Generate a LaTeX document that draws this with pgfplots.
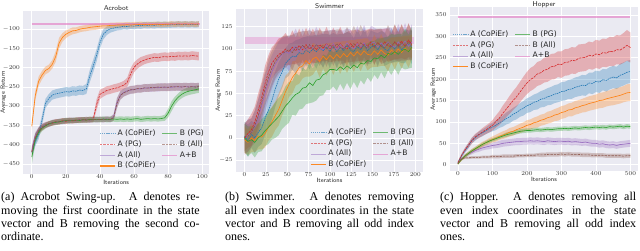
\documentclass[border=0pt]{standalone}
\usepackage{fontspec}
\usepackage{pgfplots}
\usepackage{pgfplotstable}
\pgfplotsset{compat=1.18}
\usepgfplotslibrary{fillbetween}
\newfontfamily\capfont{Liberation Serif}
\newfontfamily\legfont{DejaVu Sans}
\definecolor{tabblue}{RGB}{31,119,180}
\definecolor{tabred}{RGB}{214,39,40}
\definecolor{tabpurple}{RGB}{148,103,189}
\definecolor{taborange}{RGB}{255,127,14}
\definecolor{tabgreen}{RGB}{44,160,44}
\definecolor{tabbrown}{RGB}{140,86,75}
\definecolor{tabpink}{RGB}{227,119,194}
\definecolor{bgc}{RGB}{234,234,242}

\pgfplotstableread{
x b be r re p pe o oe g ge n ne
0 -420 12 -418 12 -415 12 -352 10 -432 18 -419 12
2 -392 12 -381 10 -378 10 -273 12 -386 14 -382 10
4 -374 12 -364 8 -362 8 -235 12 -367 10 -363 8
6 -336 14 -355 8 -353 8 -219 11 -357 8 -354 8
8 -293 12 -350 7 -349 7 -207 10 -351 7 -348 7
10 -280 12 -345 7 -347 7 -202 10 -346 7 -346 7
12 -271 12 -344 7 -342 7 -191 11 -343 7 -343 7
14 -268 12 -341 7 -342 7 -171 14 -342 7 -340 7
16 -266 12 -340 7 -339 7 -136 14 -340 7 -341 7
18 -264 12 -338 7 -340 7 -121 11 -339 7 -338 7
20 -262 12 -339 7 -337 7 -113 10 -337 7 -338 7
22 -263 12 -337 7 -338 7 -108 9 -338 7 -336 7
24 -260 12 -338 7 -336 7 -104 9 -337 7 -337 7
26 -261 12 -336 7 -337 7 -103 8 -336 7 -337 7
28 -258 12 -336 7 -335 7 -100 8 -337 7 -335 7
30 -259 12 -335 7 -336 7 -98 8 -335 7 -336 7
32 -255 13 -336 7 -335 7 -97 8 -336 7 -334 7
34 -222 16 -334 7 -336 7 -95 8 -334 7 -336 7
36 -196 16 -335 7 -334 7 -94 8 -335 7 -334 7
38 -168 16 -296 14 -335 7 -93 8 -334 7 -335 7
40 -135 15 -269 12 -334 7 -92 7 -335 7 -334 7
42 -113 13 -264 11 -335 7 -91 7 -333 7 -335 7
44 -104 11 -259 11 -333 7 -91 7 -335 7 -333 7
46 -99 10 -257 11 -335 7 -90 7 -334 7 -334 7
48 -97 9 -254 11 -328 8 -90 7 -333 7 -330 8
50 -95 8 -252 11 -291 13 -89 7 -334 7 -292 13
52 -94 8 -249 11 -271 11 -89 7 -333 7 -272 11
54 -92 8 -245 11 -264 10 -89 7 -334 7 -265 10
56 -93 8 -238 12 -260 10 -88 7 -333 7 -261 10
58 -91 8 -216 15 -258 10 -89 7 -334 7 -257 10
60 -92 8 -199 13 -256 10 -88 7 -333 7 -257 10
62 -90 8 -190 12 -255 10 -88 7 -332 7 -254 10
64 -91 8 -184 12 -254 10 -87 7 -334 7 -255 10
66 -89 8 -180 11 -253 10 -88 7 -333 7 -252 10
68 -90 8 -177 11 -252 10 -87 7 -332 7 -253 10
70 -89 8 -175 11 -253 10 -88 7 -333 7 -251 10
72 -90 8 -173 11 -251 10 -87 7 -332 7 -252 10
74 -88 8 -174 11 -252 10 -87 7 -333 7 -250 10
76 -89 8 -172 11 -250 10 -88 7 -332 7 -251 10
78 -88 8 -171 11 -251 10 -87 7 -330 8 -250 10
80 -89 8 -172 11 -250 10 -87 7 -318 11 -251 10
82 -88 8 -170 11 -251 10 -86 7 -300 13 -249 10
84 -88 8 -171 11 -249 10 -87 7 -286 11 -250 10
86 -87 8 -169 11 -250 10 -86 7 -276 10 -249 10
88 -88 8 -170 11 -250 10 -87 7 -269 10 -250 10
90 -87 8 -169 11 -249 10 -86 7 -264 10 -249 10
92 -88 8 -170 11 -250 10 -87 7 -261 10 -250 10
94 -87 8 -168 11 -249 10 -86 7 -259 10 -249 10
96 -88 8 -169 11 -250 10 -87 7 -257 10 -250 10
98 -87 8 -170 11 -249 10 -86 7 -255 10 -249 10
}\acro

\pgfplotstableread{
x b be r re p pe o oe g ge n ne
0 2 16 0 15 -2 17 -2 15 0 16 0 17
4 -3 18 5 16 3 18 -5 14 -4 17 2 18
8 4 15 9 18 6 16 0 16 -2 15 6 16
12 0 17 18 17 12 18 -3 13 -5 17 14 17
16 6 16 31 19 23 20 2 15 0 16 25 19
20 11 18 45 18 36 19 1 14 3 18 40 20
24 22 19 61 20 50 21 5 16 8 17 55 19
28 31 20 74 19 63 20 12 15 12 19 68 21
32 42 21 84 18 74 19 18 17 16 18 78 20
36 55 20 89 17 83 18 25 16 20 20 86 19
40 66 19 94 18 89 19 32 18 24 21 91 18
44 74 18 96 17 94 18 42 17 30 20 95 19
48 84 17 100 18 97 17 52 18 36 22 97 18
52 88 18 97 15 95 20 60 14 40 23 99 16
56 92 15 102 19 99 16 68 18 45 19 96 20
60 91 19 98 15 103 20 73 14 49 24 102 16
64 96 15 104 19 97 16 79 18 51 19 99 20
68 94 19 99 15 103 20 81 14 56 23 104 16
72 99 15 105 19 99 16 87 18 57 19 100 20
76 96 19 100 15 104 20 83 14 62 23 105 16
80 100 15 104 19 100 16 89 18 59 19 99 20
84 97 19 99 15 105 20 91 14 65 23 105 16
88 101 15 105 19 101 16 86 18 66 19 101 20
92 98 19 101 15 99 20 92 14 71 23 104 16
96 102 15 106 19 105 16 88 18 73 19 100 20
100 97 19 100 15 101 20 93 14 77 23 105 16
104 103 15 105 19 106 16 89 18 77 19 101 20
108 97 19 101 15 100 20 94 14 76 23 106 16
112 102 15 106 19 105 16 90 18 80 19 102 20
116 98 19 102 15 101 20 95 14 77 23 100 16
120 104 15 100 19 107 16 91 18 81 19 105 20
124 99 19 106 15 102 20 96 14 78 23 101 16
128 97 15 102 19 100 16 92 18 82 19 106 20
132 103 19 107 15 106 20 97 14 79 23 102 16
136 99 15 101 19 102 16 93 18 84 19 107 20
140 105 19 106 15 107 20 98 14 83 23 103 16
144 98 15 103 19 101 16 94 18 87 19 101 20
148 102 19 108 15 106 20 93 14 86 23 106 16
152 104 15 102 19 108 16 98 18 90 19 102 20
156 99 19 107 15 102 20 94 14 89 23 107 16
160 105 15 103 19 107 16 99 18 93 19 103 20
164 100 19 108 15 103 20 95 14 90 23 101 16
168 98 15 104 19 108 16 93 18 95 19 107 20
172 104 19 102 15 104 20 99 14 94 23 103 16
176 100 15 108 19 102 16 95 18 97 19 108 20
180 105 19 104 15 108 20 100 14 94 23 102 16
184 99 15 109 19 104 16 96 18 98 19 107 20
188 103 19 103 15 109 20 101 14 100 23 103 16
192 106 15 110 19 103 16 97 18 97 19 108 20
196 102 19 105 15 108 20 102 14 102 23 104 16
}\swim

\pgfplotstableread{
x b be r re p pe o oe g ge n ne
0 5 3 5 3 3 2 2 2 2 2 3 2
10 20 4 21 4 13 3 12 3 12 3 14 3
20 33 5 34 5 20 4 20 4 20 4 16 3
30 44 6 45 6 25 4 26 4 26 4 16 3
40 56 6 56 7 29 5 32 5 32 4 17 3
50 63 7 65 7 33 5 37 5 37 4 17 3
60 70 7 70 8 36 6 42 6 42 4 17 3
70 74 8 76 9 39 6 47 6 47 4 18 3
80 79 8 81 10 41 6 51 6 51 4 18 3
90 84 9 86 11 43 7 55 7 55 4 18 3
100 88 10 92 12 45 7 59 7 58 4 19 4
110 92 11 101 14 46 7 62 8 61 4 19 4
120 98 12 109 16 48 8 66 8 64 4 19 4
130 102 13 120 18 50 8 69 9 67 4 20 4
140 108 14 130 19 51 8 72 9 70 5 20 4
150 112 15 140 21 52 8 76 10 72 5 20 4
160 118 15 150 22 53 8 78 10 74 5 20 4
170 122 16 159 23 54 8 82 10 76 5 21 4
180 128 16 170 24 54 8 85 11 78 5 21 4
190 132 17 181 25 55 8 88 11 79 5 21 4
200 138 17 191 26 55 8 92 12 80 5 22 4
210 141 18 199 27 56 8 94 12 80 5 22 4
220 146 18 204 27 55 8 98 12 81 5 22 4
230 148 19 212 28 56 8 100 13 82 5 23 4
240 153 19 215 28 55 8 104 13 81 5 23 5
250 155 20 221 29 54 8 106 13 82 5 23 5
260 159 20 223 29 56 8 110 14 83 5 24 5
270 161 21 229 30 55 8 112 14 82 5 24 5
280 165 21 230 30 54 8 116 14 83 5 24 5
290 167 21 235 30 55 8 118 15 84 5 24 5
300 171 22 234 31 55 8 122 15 84 5 25 5
310 172 22 239 31 54 8 124 15 85 5 24 5
320 176 22 240 31 55 8 128 15 84 5 25 5
330 177 23 244 31 53 8 129 16 85 5 24 5
340 181 23 243 31 54 8 133 16 86 5 24 5
350 183 23 249 32 53 8 135 16 85 5 24 5
360 186 24 250 32 52 8 138 16 86 5 23 5
370 185 24 251 32 53 8 140 17 87 5 23 5
380 191 24 256 32 51 8 143 17 86 5 23 5
390 190 25 254 32 50 8 145 17 87 5 22 5
400 195 25 259 33 50 8 147 17 88 5 22 5
410 193 25 257 33 48 8 150 18 87 5 22 5
420 199 25 262 33 49 8 151 18 88 5 22 5
430 197 26 261 33 47 8 154 18 87 5 21 5
440 202 26 265 34 46 8 156 18 89 5 21 5
450 205 26 264 34 47 8 158 19 88 5 21 5
460 203 26 269 34 45 8 160 19 89 5 21 5
470 209 27 268 34 47 8 162 19 90 5 21 5
480 212 27 273 35 48 8 165 19 88 5 20 5
490 216 27 279 36 49 8 168 20 90 5 21 5
500 218 27 274 35 50 8 169 20 89 5 21 5
}\hop

\newcommand{\ser}[5]{%
 \addplot[draw=none, forget plot, name path=U#2] table[x=x, y expr=\thisrow{#2}+\thisrow{#3}] {#1};
 \addplot[draw=none, forget plot, name path=L#2] table[x=x, y expr=\thisrow{#2}-\thisrow{#3}] {#1};
 \addplot[fill=#4, fill opacity=0.3, draw=none, forget plot] fill between[of=U#2 and L#2];
 \addplot[#4, line width=0.6pt, #5, forget plot] table[x=x, y=#2] {#1};
}
\newcommand{\allser}[1]{%
 \ser{#1}{b}{be}{tabblue}{dash pattern=on 1.5pt off 0.8pt}
 \ser{#1}{r}{re}{tabred}{dash pattern=on 2.4pt off 1pt}
 \ser{#1}{p}{pe}{tabpurple}{solid}
 \ser{#1}{o}{oe}{taborange}{solid}
 \ser{#1}{g}{ge}{tabgreen}{solid}
 \ser{#1}{n}{ne}{tabbrown}{dash pattern=on 2.4pt off 1pt}
}
\newcommand{\legentries}{%
 \addlegendimage{tabblue, line width=0.8pt, dash pattern=on 1.2pt off 0.9pt, opacity=0.6}\addlegendentry{A (CoPiEr)}
 \addlegendimage{tabgreen, line width=0.9pt, opacity=0.65}\addlegendentry{B (PG)}
 \addlegendimage{tabred, line width=0.8pt, dash pattern=on 2.4pt off 1pt, opacity=0.6}\addlegendentry{A (PG)}
 \addlegendimage{tabbrown, line width=0.8pt, dash pattern=on 2.4pt off 1pt, opacity=0.6}\addlegendentry{B (All)}
 \addlegendimage{tabpurple, line width=0.8pt, opacity=0.5}\addlegendentry{A (All)}
 \addlegendimage{tabpink, line width=0.8pt, opacity=0.6}\addlegendentry{A+B}
 \addlegendimage{taborange, line width=1.1pt, opacity=0.9}\addlegendentry{B (CoPiEr)}
}

\pgfplotsset{
 every axis title/.style={at={(0.5,1)}, anchor=base, yshift=0.3pt, font=\sffamily\fontsize{7}{8}\selectfont, text=black!85},
 sns/.style={
  scale only axis, anchor=south west,
  axis background/.style={fill=bgc},
  axis line style={draw=none},
  grid=major, major grid style={draw=white, line width=0.7pt},
  major tick length=0pt, tick style={draw=none},
  ticklabel style={font=\fontsize{6}{7}\selectfont, text=black!80},
  xticklabel style={inner sep=0.8pt},
  xlabel style={font=\sffamily\fontsize{6.2}{7}\selectfont, at={(0.5,0)}, anchor=base, yshift=-10.5pt, text=black!85},
  ylabel style={font=\sffamily\fontsize{6.2}{7}\selectfont, anchor=center, text=black!85},
  xlabel=Iterations, ylabel=Average Return,
  legend columns=2, legend cell align=left,
  legend image code/.code={\draw[##1] (0pt,0pt) -- (15pt,0pt);},
  legend style={draw=none, fill=none, anchor=north west, inner sep=0pt,
    font=\legfont\fontsize{7.6}{8.5}\selectfont, text=black!85,
    nodes={inner sep=0.5pt, text height=5.6pt, text depth=1.8pt},
    row sep=2.3pt,
    /tikz/every even column/.append style={column sep=6pt},
    /tikz/every odd column/.append style={column sep=1.5pt}},
 }
}

\begin{document}
\begin{tikzpicture}[x=1pt,y=1pt]

\begin{axis}[sns, at={(23.3pt,77pt)}, width=185.7pt, height=163pt,
  xmin=-5, xmax=104, ymin=-476, ymax=-52.5,
  xtick={0,20,...,100}, ytick={-450,-400,...,-100},
  title=Acrobot,
  ylabel style={at={(axis description cs:-0.1077,0.5)}},
  legend style={at={(0.409,0.273)}}]
 \addplot[tabpink, opacity=0.6, line width=2.4pt, forget plot] coordinates {(0,-86) (99,-86)};
 \allser{\acro}
 \legentries
\end{axis}

\begin{axis}[sns, at={(236pt,79.3pt)}, width=187pt, height=162.7pt,
  xmin=-10, xmax=209, ymin=-38, ymax=145,
  xtick={0,25,...,200}, ytick={-25,0,...,125},
  title=Swimmer,
  ylabel style={at={(axis description cs:-0.0947,0.5)}},
  legend style={at={(0.396,0.267)}}]
 \addplot[draw=none, forget plot, name path=UAB] coordinates {(0,113) (199,113)};
 \addplot[draw=none, forget plot, name path=LAB] coordinates {(0,106) (199,106)};
 \addplot[fill=tabpink, fill opacity=0.35, draw=none, forget plot] fill between[of=UAB and LAB];
 \allser{\swim}
 \legentries
\end{axis}

\begin{axis}[sns, at={(450pt,80.3pt)}, width=188pt, height=163.4pt,
  xmin=-23, xmax=522, ymin=-14, ymax=368,
  xtick={0,100,...,500}, ytick={0,50,...,350},
  title=Hopper,
  ylabel style={at={(axis description cs:-0.0888,0.5)}},
  legend style={at={(0.011,0.86)}}]
 \addplot[tabpink, opacity=0.6, line width=2.4pt, forget plot] coordinates {(0,346) (500,346)};
 \allser{\hop}
 \legentries
\end{axis}

\node[anchor=north west, inner sep=0pt, align=left, font=\capfont\fontsize{12}{13.1}\selectfont] at (1,58.6)
 {\makebox[198.5pt][s]{(a) Acrobot Swing-up. A denotes re-}\\\makebox[198.5pt][s]{moving the first coordinate in the state}\\\makebox[198.5pt][s]{vector and B removing the second co-}\\ordinate.};
\node[anchor=north west, inner sep=0pt, align=left, font=\capfont\fontsize{12}{13.1}\selectfont] at (225,58.6)
 {\makebox[189pt][s]{(b) Swimmer. A denotes removing}\\\makebox[189pt][s]{all even index coordinates in the state}\\\makebox[189pt][s]{vector and B removing all odd index}\\ones.};
\node[anchor=north west, inner sep=0pt, align=left, font=\capfont\fontsize{12}{13.1}\selectfont] at (440,58.6)
 {\makebox[196pt][s]{(c) Hopper. A denotes removing all}\\\makebox[196pt][s]{even index coordinates in the state}\\\makebox[196pt][s]{vector and B removing all odd index}\\ones.};

\pgfresetboundingbox
\path[use as bounding box] (0,0) rectangle (640,251);
\end{tikzpicture}
\end{document}
